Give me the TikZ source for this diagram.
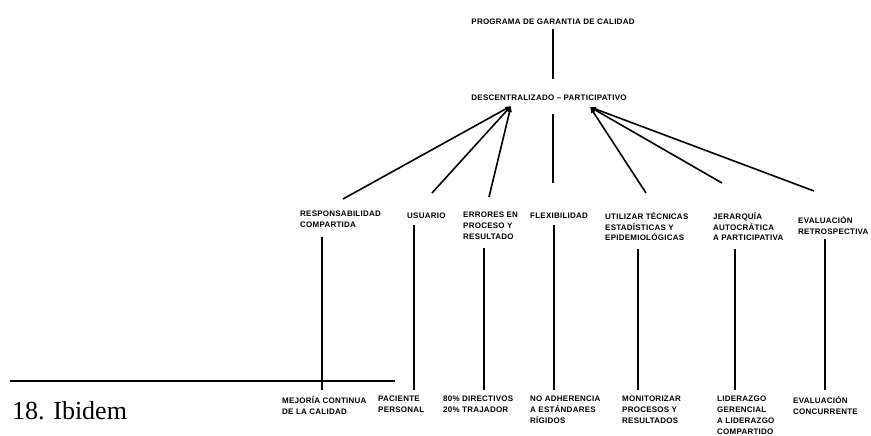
\documentclass[tikz,border=0pt]{standalone}
\usepackage{fontspec}
\setmainfont{Liberation Serif}
\newfontfamily\lblfont[LetterSpace=3,BoldFont={Liberation Sans Bold}]{Liberation Sans Bold}
\usepackage{tikz}
\usetikzlibrary{positioning}
\usepgflibrary{arrows.meta}

\begin{document}
\begin{tikzpicture}[x=1pt,y=-1pt,
    lbl/.style={font=\lblfont\bfseries\fontsize{8}{10.8}\selectfont, align=left,
      anchor=north west, inner sep=0pt, execute at begin node={\rule{0pt}{7pt}}},
    ttl/.style={lbl, anchor=north},
    arr/.style={line width=1.6pt, -{Latex[length=6pt,width=5pt]}},
    col/.style={line width=1.5pt, shorten >=6pt}]
      \useasboundingbox (0,0) rectangle (871,436);

      \node[ttl] (prog) at (553,17) {PROGRAMA DE GARANTIA DE CALIDAD};
      \node[ttl] (desc) at (549,93) {DESCENTRALIZADO – PARTICIPATIVO};
      \draw[line width=1.5pt, shorten <=5pt, shorten >=14pt] (prog.south) -- (prog.south |- desc.north);
      \coordinate (hubL) at (511,106);
      \coordinate (hubR) at (590,107);

      % upper row
      \node[lbl] (resp) at (300,211) {RESPONSABILIDAD\\COMPARTIDA};
      \node[lbl] (usu) at (407,211) {USUARIO};
      \node[lbl] (err) at (463,212) {ERRORES EN\\PROCESO Y\\RESULTADO};
      \node[lbl] (flex) at (530,211) {FLEXIBILIDAD};
      \node[lbl] (util) at (605,212) {UTILIZAR TÉCNICAS\\ESTADÍSTICAS Y\\EPIDEMIOLÓGICAS};
      \node[lbl] (jer) at (713,212) {JERARQUÍA\\AUTOCRÁTICA\\A PARTICIPATIVA};
      \node[lbl] (retro) at (798,216) {EVALUACIÓN\\RETROSPECTIVA};

      % lower row
      \node[lbl] (mej) at (282,396) {MEJORÍA CONTINUA\\DE LA CALIDAD};
      \node[lbl] (pac) at (378,396) {PACIENTE\\PERSONAL};
      \node[lbl] (dir) at (443,396) {80\% DIRECTIVOS\\20\% TRAJADOR};
      \node[lbl] (adh) at (530,396) {NO ADHERENCIA\\A ESTÁNDARES\\RÍGIDOS};
      \node[lbl] (mon) at (622,396) {MONITORIZAR\\PROCESOS Y\\RESULTADOS};
      \node[lbl] (lid) at (717,396) {LIDERAZGO\\GERENCIAL\\A LIDERAZGO\\COMPARTIDO};
      \node[lbl] (conc) at (793,396) {EVALUACIÓN\\CONCURRENTE};

      \draw[arr] ([shift={(43pt,12pt)}]resp.north west) -- (hubL);
      \draw[arr] ([shift={(25pt,18pt)}]usu.north west) -- (hubL);
      \draw[arr] ([shift={(26pt,15pt)}]err.north west) -- (hubL);
      \draw[line width=1.5pt, shorten >=14pt] ([shift={(23pt,28pt)}]flex.north west) coordinate (fx) -- (fx |- desc.south);
      \draw[arr] ([shift={(41pt,19pt)}]util.north west) -- (hubR);
      \draw[arr] ([shift={(9pt,29pt)}]jer.north west) -- (hubR);
      \draw[arr] ([shift={(16pt,25pt)}]retro.north west) -- (hubR);

      \foreach \x/\a/\b/\s in {322/resp/mej/9, 414/usu/pac/7, 484/err/dir/8, 554/flex/adh/7,
          638/util/mon/8, 735/jer/lid/8, 825/retro/conc/5} {
        \coordinate (k) at (\x,0);
        \draw[col, shorten <=\s pt] (k |- \a.south) -- (k |- \b.north);
      }

      \draw[line width=1.8pt] (10,381) -- (395,381);
      \node[anchor=base west, inner sep=0pt, font=\fontsize{26}{28}\selectfont] (ibid) at (12,419) {18. Ibidem};
\end{tikzpicture}
\end{document}
